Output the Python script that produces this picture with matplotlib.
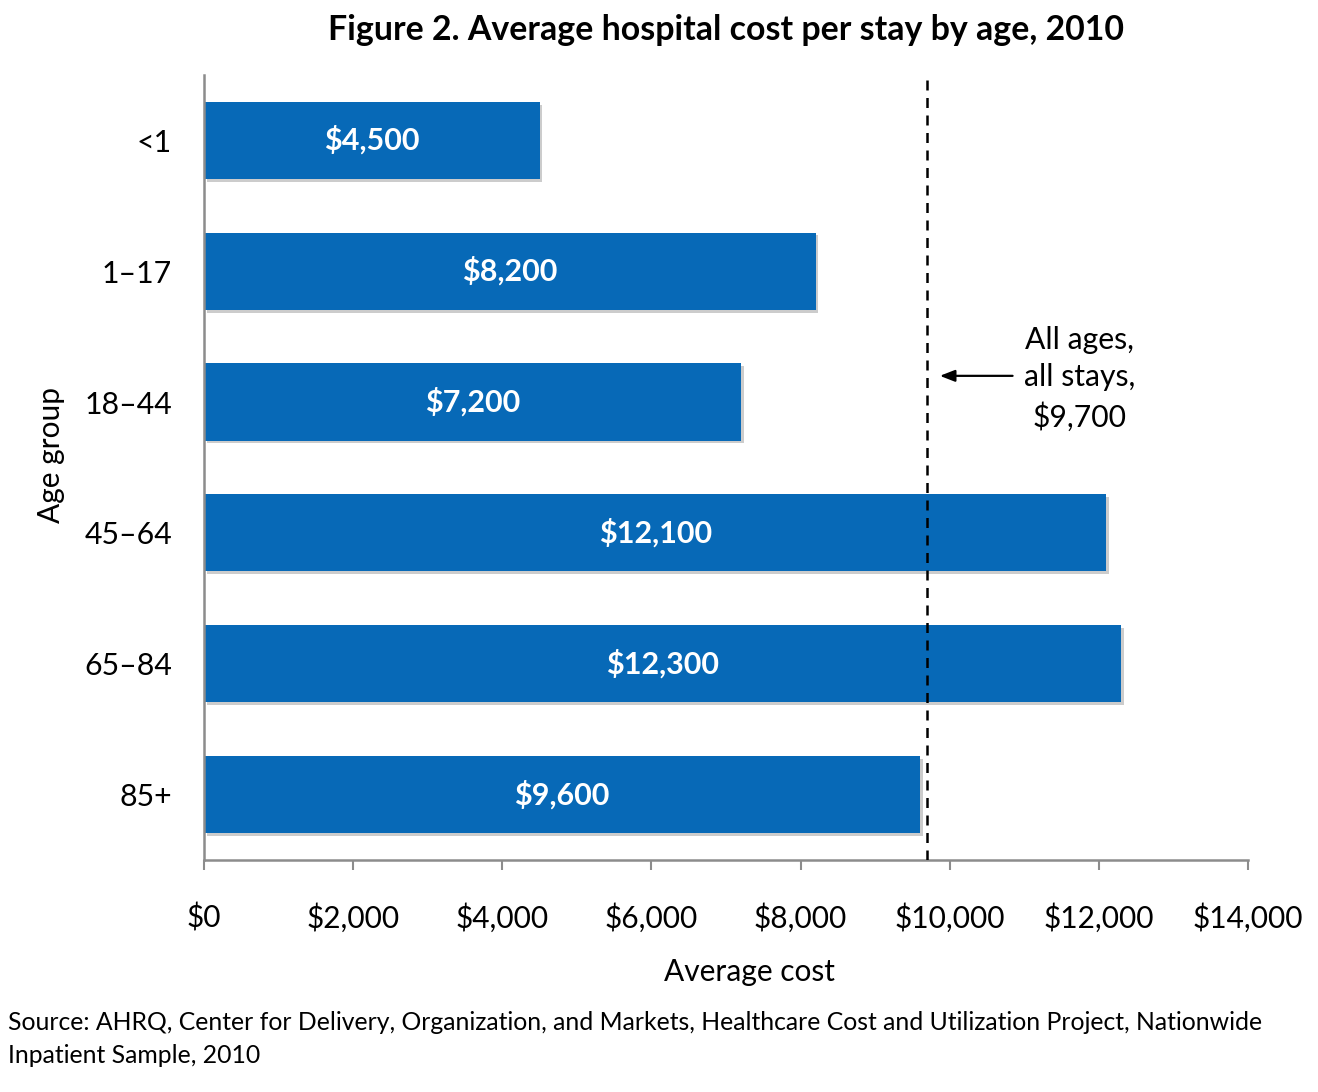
import matplotlib.pyplot as plt
import matplotlib.patheffects as pe
from matplotlib.ticker import FuncFormatter

age_groups = ["<1", "1\u201317", "18\u201344", "45\u201364", "65\u201384", "85+"]
avg_cost = [4500, 8200, 7200, 12100, 12300, 9600]
all_ages_cost = 9700
x_ticks = [0, 2000, 4000, 6000, 8000, 10000, 12000, 14000]

plt.rcParams['font.family'] = ['Lato', 'DejaVu Sans']

fig = plt.figure(figsize=(13.18, 10.92), dpi=100)
ax = fig.add_axes([0.1548, 0.2125, 0.7921, 0.7189])

pos = list(range(len(age_groups)))
bars = ax.barh(pos, avg_cost, height=0.59, color="#0769B7", zorder=2)
for b in bars:
    b.set_path_effects([pe.SimplePatchShadow(offset=(2, -2), shadow_rgbFace="#000000", alpha=0.2),
                        pe.Normal()])

for p, v in zip(pos, avg_cost):
    ax.text(v / 2, p, f"${v:,}", color="white", fontsize=22, fontweight="bold",
            ha="center", va="center", zorder=3)

ax.axvline(all_ages_cost, color="black", linestyle=(0, (4, 3)), linewidth=1.8, zorder=4)
ax.annotate("", xy=(all_ages_cost + 130, 1.8), xytext=(all_ages_cost + 1180, 1.8),
            arrowprops=dict(arrowstyle="-|>,head_length=0.9,head_width=0.35",
                            color="black", lw=1.6))
ax.text(11740, 1.82, "All ages,\nall stays,\n$9,700", fontsize=21.7, ha="center", va="center",
        linespacing=1.42)

ax.set_xlim(0, 14000)
ax.set_ylim(5.5, -0.5)
ax.set_yticks(pos)
ax.set_yticklabels(age_groups, fontsize=21.8)
ax.set_xticks(x_ticks)
ax.xaxis.set_major_formatter(FuncFormatter(lambda v, _: f"${int(v):,}"))
ax.tick_params(axis="x", labelsize=21.5, length=7, width=1.5, color="#8c8c8c", pad=24)
ax.tick_params(axis="y", length=0, pad=23)

for s in ["top", "right"]:
    ax.spines[s].set_visible(False)
for s in ["left", "bottom"]:
    ax.spines[s].set_color("#8c8c8c")
    ax.spines[s].set_linewidth(1.8)

ax.set_xlabel("Average cost", fontsize=21.5)
ax.xaxis.set_label_coords(0.522, -0.125)
ax.set_ylabel("Age group", fontsize=21.5)
ax.yaxis.set_label_coords(-0.133, 0.516)
ax.set_title("Figure 2. Average hospital cost per stay by age, 2010",
             fontsize=24.4, fontweight="bold", pad=25)

fig.text(0.006, 0.0485, "Source: AHRQ, Center for Delivery, Organization, and Markets, "
         "Healthcare Cost and Utilization Project, Nationwide\nInpatient Sample, 2010",
         fontsize=17.8, ha="left", va="center", linespacing=1.54)

fig.savefig("out.png", dpi=100)
